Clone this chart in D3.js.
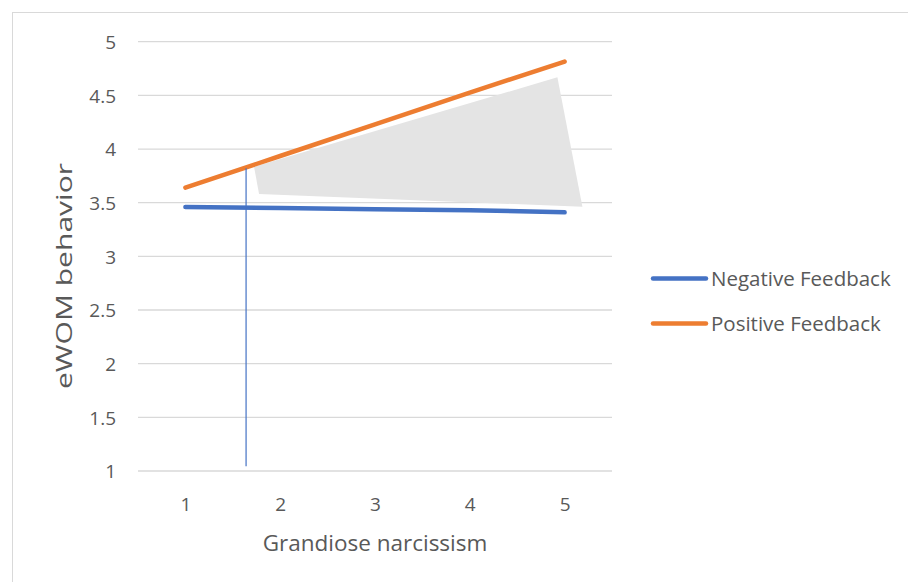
<!DOCTYPE html>
<html>
<head>
<meta charset="utf-8">
<script src="https://cdn.jsdelivr.net/npm/d3@7"></script>
<style>
  html, body { margin: 0; padding: 0; background: #fff; }
  svg text { font-family: "Open Sans", "Noto Sans", sans-serif; fill: #595959; }
</style>
</head>
<body>
<script>
// ---- data ----
const categories = [1, 2, 3, 4, 5];
const negativeFeedback = [3.46, 3.45, 3.44, 3.43, 3.41];
const positiveFeedback = [3.64, 3.935, 4.23, 4.525, 4.815];
const seriesNames = ["Negative Feedback", "Positive Feedback"];
const yTicks = [1, 1.5, 2, 2.5, 3, 3.5, 4, 4.5, 5];
// annotation shapes (in data units: x = position along category axis, y = value)
const shadeX = [1.724, 4.924, 5.188, 1.777];
const shadeY = [3.835, 4.668, 3.462, 3.581];
const markerX = [1.64, 1.64];
const markerY = [3.82, 1.045];

const W = 908, H = 582;
const colors = ["#4472C4", "#ED7D31"];

const svg = d3.select("body").append("svg").attr("width", W).attr("height", H);

// chart border
svg.append("rect").attr("x", 12.5).attr("y", 12.5).attr("width", 1000).attr("height", 1000)
  .attr("fill", "none").attr("stroke", "#d9d9d9").attr("stroke-width", 1);

const plot = { left: 138, right: 612, top: 41.7, bottom: 471 };

const x = d3.scalePoint().domain(categories).range([plot.left, plot.right]).padding(0.5);
const xl = d3.scaleLinear().domain([1, 5]).range([x(1), x(5)]);
const y = d3.scaleLinear().domain([1, 5]).range([plot.bottom, plot.top]);

// gridlines
svg.append("g").selectAll("line").data(yTicks).join("line")
  .attr("x1", plot.left).attr("x2", plot.right)
  .attr("y1", d => y(d)).attr("y2", d => y(d))
  .attr("stroke", "#d9d9d9").attr("stroke-width", 1.3);

// y axis labels
const yAxis = d3.axisLeft(y).tickValues(yTicks).tickSize(0).tickPadding(0).tickFormat(d => String(d));
const gy = svg.append("g").attr("transform", `translate(${116},0)`).call(yAxis);
gy.select(".domain").remove();
gy.selectAll("text").style("font-size", "19px").attr("fill", "#595959").attr("dy", "0.36em");

// x axis labels
const xAxis = d3.axisBottom(x).tickSize(0).tickPadding(0);
const gx = svg.append("g").attr("transform", `translate(0,${511})`).call(xAxis);
gx.select(".domain").remove();
gx.selectAll("text").style("font-size", "19px").attr("fill", "#595959").attr("dy", "0");

// axis titles
svg.append("text").attr("x", (plot.left + plot.right) / 2).attr("y", 551)
  .attr("text-anchor", "middle").style("font-size", "22.5px").text("Grandiose narcissism");
svg.append("text").attr("transform", `translate(72,${276}) rotate(-90)`)
  .attr("text-anchor", "middle").style("font-size", "22px")
  .attr("textLength", 226).attr("lengthAdjust", "spacingAndGlyphs")
  .text("eWOM behavior");

// shaded annotation
svg.append("polygon")
  .attr("points", shadeX.map((d, i) => `${xl(d)},${y(shadeY[i])}`).join(" "))
  .attr("fill", "#e4e4e4");

// lines
const line = d3.line().x((d, i) => x(categories[i])).y(d => y(d));
[negativeFeedback, positiveFeedback].forEach((s, i) => {
  svg.append("path").datum(s).attr("d", line)
    .attr("fill", "none").attr("stroke", colors[i]).attr("stroke-width", 4.5)
    .attr("stroke-linecap", "round");
});

// vertical marker line
svg.append("line")
  .attr("x1", xl(markerX[0])).attr("x2", xl(markerX[1]))
  .attr("y1", y(markerY[0])).attr("y2", y(markerY[1]))
  .attr("stroke", "#4472C4").attr("stroke-width", 1.2);

// legend
const leg = svg.append("g");
seriesNames.forEach((n, i) => {
  const ly = 278.5 + i * 45;
  leg.append("line").attr("x1", 653).attr("x2", 706).attr("y1", ly).attr("y2", ly)
    .attr("stroke", colors[i]).attr("stroke-width", 4.5).attr("stroke-linecap", "round");
  leg.append("text").attr("x", 711).attr("y", ly).attr("dy", "0.36em")
    .style("font-size", "20.5px").text(n);
});
</script>
</body>
</html>
